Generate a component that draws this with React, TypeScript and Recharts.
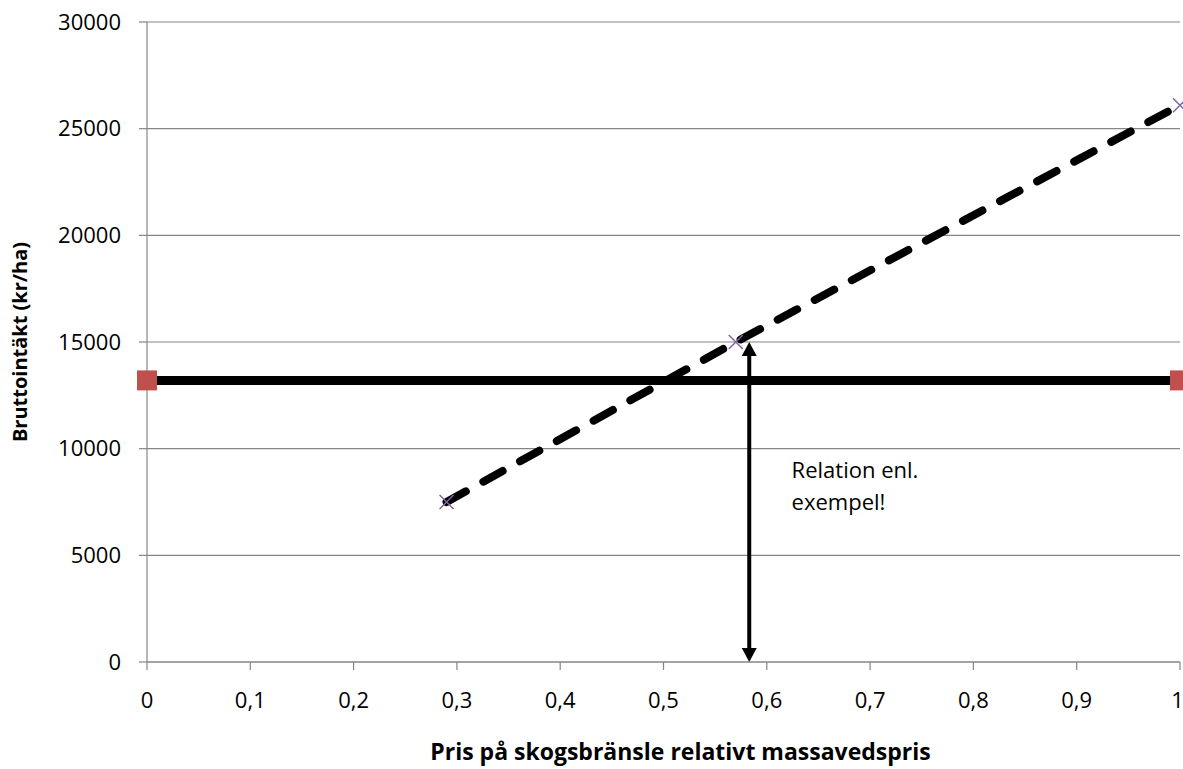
import { ComposedChart, Line, Scatter, XAxis, YAxis, CartesianGrid, ReferenceLine, ReferenceDot } from 'recharts'

// x-axel och y-axel
const X_TICKS = [0, 0.1, 0.2, 0.3, 0.4, 0.5, 0.6, 0.7, 0.8, 0.9, 1]
const Y_TICKS = [0, 5000, 10000, 15000, 20000, 25000, 30000]

// massaved (konstant intäkt)
const MASSA_X = [0, 1]
const MASSA_Y = [13200, 13200]

// skogsbränsle
const BRANSLE_X = [0.29, 0.57, 1]
const BRANSLE_Y = [7500, 15000, 26100]

// pil för exemplet
const PIL_X = 0.583
const PIL_Y = [0, 15000]

const TEXT_X = 0.624
const TEXT_Y = 8630
const TEXT_RADER = ['Relation enl.', 'exempel!']

const massa = MASSA_X.map((x, i) => ({ x, y: MASSA_Y[i] }))
const bransle = BRANSLE_X.map((x, i) => ({ x, y: BRANSLE_Y[i] }))

const FONT = '"Open Sans", sans-serif'
const GRID = '#868686'

const fmt = (v: number) => String(v).replace('.', ',')

function Kvadrat(p: any) {
  return <rect x={p.cx - 10} y={p.cy - 10} width={20} height={20} fill="#C0504D" />
}

function Kryss(p: any) {
  const s = 7
  return (
    <g stroke="#8064A2" strokeWidth={1.5}>
      <line x1={p.cx - s} y1={p.cy - s} x2={p.cx + s} y2={p.cy + s} />
      <line x1={p.cx - s} y1={p.cy + s} x2={p.cx + s} y2={p.cy - s} />
    </g>
  )
}

function Pil(p: any) {
  const x = p.x1
  const top = Math.min(p.y1, p.y2)
  const bot = Math.max(p.y1, p.y2)
  const h = 14, w = 7.5
  return (
    <g>
      <line x1={x} y1={top + h - 2} x2={x} y2={bot - h + 2} stroke="#000" strokeWidth={4} />
      <polygon points={`${x},${top} ${x - w},${top + h} ${x + w},${top + h}`} fill="#000" />
      <polygon points={`${x},${bot} ${x - w},${bot - h} ${x + w},${bot - h}`} fill="#000" />
    </g>
  )
}

function Anteckning(p: any) {
  const vb = p.viewBox || {}
  const x = vb.x + (vb.width || 0) / 2
  const y = vb.y + (vb.height || 0) / 2
  return (
    <text x={x} y={y} fontSize={22} fontFamily={FONT} fill="#000">
      {TEXT_RADER.map((r, i) => (
        <tspan key={i} x={x} dy={i === 0 ? 0 : 32}>{r}</tspan>
      ))}
    </text>
  )
}

export default function App() {
  return (
    <div style={{ position: 'absolute', left: 0, top: 0, width: 1183, height: 769, background: '#fff', fontFamily: FONT }}>
      <ComposedChart width={1183} height={769} margin={{ top: 22, right: 3, bottom: 47, left: 7 }}>
        <CartesianGrid vertical={false} stroke={GRID} strokeWidth={1.2} />
        <XAxis
          dataKey="x"
          type="number"
          domain={[0, 1]}
          ticks={X_TICKS}
          tickFormatter={fmt}
          stroke={GRID}
          strokeWidth={1.2}
          tickSize={8}
          tickMargin={22}
          height={60}
          tick={{ fill: '#000', fontSize: 22, fontFamily: FONT }}
          label={{
            content: (p: any) => {
              const vb = p.viewBox
              return (
                <text x={vb.x + vb.width / 2 + 17} y={760} textAnchor="middle" fontSize={23} fontWeight="bold" fontFamily={FONT} fill="#000">
                  Pris på skogsbränsle relativt massavedspris
                </text>
              )
            },
          }}
        />
        <YAxis
          type="number"
          domain={[0, 30000]}
          ticks={Y_TICKS}
          stroke={GRID}
          strokeWidth={1.2}
          tickSize={8}
          tickMargin={18}
          width={140}
          tick={{ fill: '#000', fontSize: 22, fontFamily: FONT }}
          label={{
            content: (p: any) => {
              const vb = p.viewBox
              const cx = 19
              const cy = vb.y + vb.height / 2
              return (
                <text x={cx} y={cy} transform={`rotate(-90 ${cx} ${cy})`} textAnchor="middle" dominantBaseline="central" fontSize={20} fontWeight="bold" fontFamily={FONT} fill="#000">
                  Bruttointäkt (kr/ha)
                </text>
              )
            },
          }}
        />
        <Scatter data={massa} dataKey="y" shape={Kvadrat} isAnimationActive={false} />
        <Scatter data={bransle} dataKey="y" shape={Kryss} isAnimationActive={false} />
        <Line data={massa} dataKey="y" stroke="#000" strokeWidth={9} dot={false} activeDot={false} isAnimationActive={false} />
        <Line data={bransle} dataKey="y" stroke="#000" strokeWidth={8} strokeDasharray="22 20" strokeLinecap="round" dot={false} activeDot={false} isAnimationActive={false} />
        <ReferenceLine
          segment={[{ x: PIL_X, y: PIL_Y[0] }, { x: PIL_X, y: PIL_Y[1] }]}
          shape={Pil}
        />
        <ReferenceDot x={TEXT_X} y={TEXT_Y} r={0} fill="none" stroke="none" label={{ content: Anteckning }} />
      </ComposedChart>
    </div>
  )
}
